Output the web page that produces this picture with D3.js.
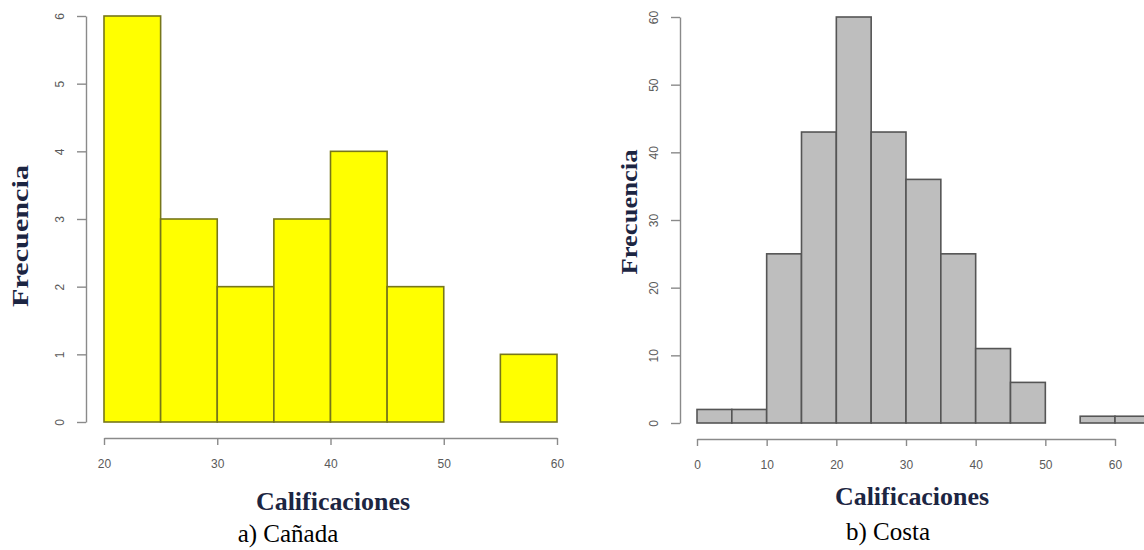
<!DOCTYPE html>
<html><head><meta charset="utf-8">
<script src="https://cdn.jsdelivr.net/npm/d3@7"></script>
<style>body{margin:0;background:#fff}svg{display:block}</style>
</head><body>
<svg id="c" width="1144" height="550"></svg>
<script>
// Data
const canadaBreaks = [20,25,30,35,40,45,50,55,60];
const canadaCounts = [6,3,2,3,4,2,0,1];
const canadaXTicks = [20,30,40,50,60];
const canadaYTicks = [0,1,2,3,4,5,6];

const costaBreaks = [0,5,10,15,20,25,30,35,40,45,50,55,60,65];
const costaCounts = [2,2,25,43,60,43,36,25,11,6,0,1,1];
const costaXTicks = [0,10,20,30,40,50,60];
const costaYTicks = [0,10,20,30,40,50,60];

const xLabel = "Calificaciones";
const yLabel = "Frecuencia";
const captions = ["a) Cañada", "b) Costa"];

const svg = d3.select("#c");
const serif = "'Liberation Serif','Times New Roman',serif";
const sans = "'Liberation Sans',Arial,sans-serif";
const labelColor = "#1c2542";
const axisColor = "#8a8a8a";
const tickTextColor = "#5a5a5a";
const fmt = d3.format("d");

function panel(cfg){
  const g = svg.append("g");
  const x = d3.scaleLinear().domain(cfg.xDomain).range(cfg.xRange);
  const y = d3.scaleLinear().domain(cfg.yDomain).range(cfg.yRange);
  const bins = cfg.counts.map((c,i)=>({x0:cfg.breaks[i], x1:cfg.breaks[i+1], c}));
  g.selectAll("rect.bar").data(bins).join("rect")
    .attr("class","bar")
    .attr("x", d=>x(d.x0)).attr("width", d=>x(d.x1)-x(d.x0))
    .attr("y", d=>y(d.c)).attr("height", d=>y(0)-y(d.c))
    .attr("fill", cfg.fill).attr("stroke", cfg.stroke).attr("stroke-width", 1.6);

  // y axis
  const ya = g.append("g").attr("transform",`translate(${cfg.yAxisX},0)`)
    .call(d3.axisLeft(y).tickValues(cfg.yTicks).tickFormat(fmt).tickSize(9).tickSizeOuter(0));
  ya.select(".domain").attr("stroke", axisColor).attr("stroke-width",1.4);
  ya.selectAll(".tick line").attr("stroke", axisColor).attr("stroke-width",1.4);
  ya.selectAll(".tick text").attr("x",0).attr("y",0).attr("dy",0)
    .attr("text-anchor","middle")
    .attr("transform","translate(-22,0) rotate(-90)")
    .attr("fill",tickTextColor).style("font-family",sans).style("font-size","12px");

  // x axis
  const xa = g.append("g").attr("transform",`translate(0,${cfg.xAxisY})`)
    .call(d3.axisBottom(x).tickValues(cfg.xTicks).tickFormat(fmt)
      .tickSize(7).tickSizeOuter(0).tickPadding(14));
  xa.select(".domain").attr("stroke", axisColor).attr("stroke-width",1.4);
  xa.selectAll(".tick line").attr("stroke", axisColor).attr("stroke-width",1.4);
  xa.selectAll(".tick text").attr("fill",tickTextColor)
    .style("font-family",sans).style("font-size","12px");

  // labels
  g.append("text").attr("x",cfg.xLabelPos[0]).attr("y",cfg.xLabelPos[1])
    .attr("text-anchor","middle").attr("fill",labelColor)
    .style("font-family",serif).style("font-weight","bold").style("font-size","25px")
    .attr("textLength",154).attr("lengthAdjust","spacingAndGlyphs")
    .text(xLabel);
  g.append("text").attr("transform",`translate(${cfg.yLabelPos[0]},${cfg.yLabelPos[1]}) rotate(-90)`)
    .attr("text-anchor","middle").attr("fill",labelColor)
    .style("font-family",serif).style("font-weight","bold").style("font-size","24px")
    .attr("textLength",cfg.yLabelLen).attr("lengthAdjust","spacingAndGlyphs")
    .text(yLabel);
  g.append("text").attr("x",cfg.capPos[0]).attr("y",cfg.capPos[1])
    .attr("text-anchor","middle").attr("fill","#000")
    .style("font-family",serif).style("font-size","25px")
    .text(cfg.caption);
}

panel({
  breaks: canadaBreaks, counts: canadaCounts,
  xDomain:[20,60], xRange:[104,557], yDomain:[0,6], yRange:[422,16],
  xTicks: canadaXTicks, yTicks: canadaYTicks,
  yAxisX:86, xAxisY:438,
  fill:"#ffff00", stroke:"#77771a",
  xLabelPos:[333,510], yLabelPos:[28,236], yLabelLen:142,
  capPos:[288,542], caption:captions[0]
});
panel({
  breaks: costaBreaks, counts: costaCounts,
  xDomain:[0,60], xRange:[697,1115], yDomain:[0,60], yRange:[423,17],
  xTicks: costaXTicks, yTicks: costaYTicks,
  yAxisX:680, xAxisY:439,
  fill:"#bebebe", stroke:"#555555",
  xLabelPos:[912,505], yLabelPos:[637,212], yLabelLen:125,
  capPos:[888,540], caption:captions[1]
});
</script>
</body></html>
